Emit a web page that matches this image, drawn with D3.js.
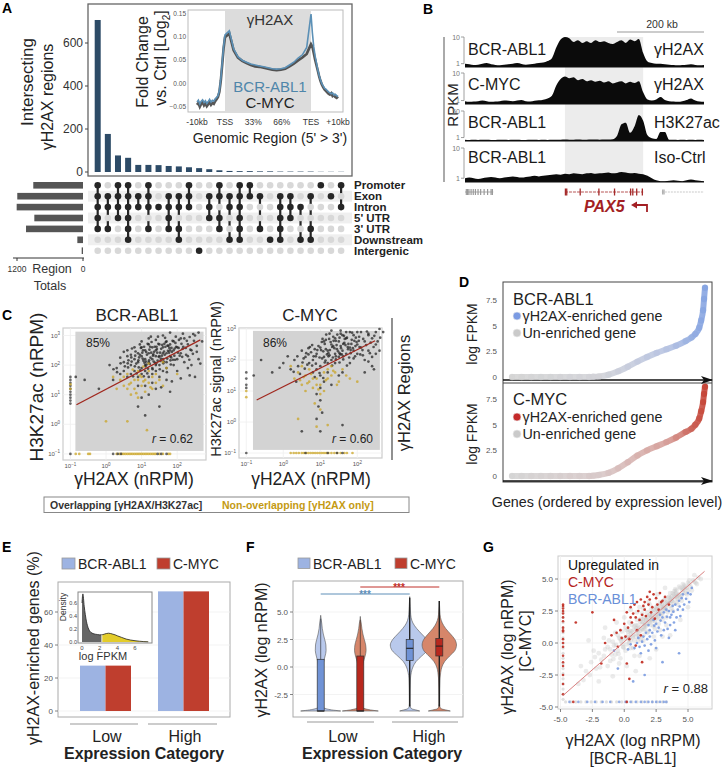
<!DOCTYPE html>
<html><head><meta charset="utf-8">
<script src="https://cdn.jsdelivr.net/npm/d3@7"></script>
<style>html,body{margin:0;padding:0;background:#fff;}svg{display:block;font-family:"Liberation Sans",Arial,Helvetica,sans-serif;}</style>
</head><body>
<svg id="fig" width="722" height="768"></svg>
<script>
// ================= DATA =================
// Panel A – UpSet
const upsetCounts = [707,177,77,66,33,33,32,28,26,22,18,13,8,5,4,4,3,3,2,2,2,2,1,1,1];
const upsetMembers = [[0,1,2,3,4],[1,2,4],[0,1,2,3],[0,1,2,3,4,5],[1,2],[0,1,2,4],[2],[1,2,3,4],[1,2,4,5],[0,1,2],[6],[1,2,3],[0,1,3,4],[1,2,5],[0,1,2,3,4,5],[0,1],[1,4],[5],[1,2,3,4,5],[1,2,3],[2,5],[1,4,5],[0],[1],[0,2]];
const regionNames = ["Promoter","Exon","Intron","5' UTR","3' UTR","Downstream","Intergenic"];
const regionTotals = [904,1195,1206,885,1036,103,24];
const upsetTicks = [0,200,400,600];
const totalsTicks = [1200,0];
// Panel A inset – metagene profile (position: -1=-10kb, 0=TSS, 1=TES, 2=+10kb, step 0.05)
const profileBCR = [-0.040,-0.036,-0.044,-0.038,-0.035,-0.041,-0.037,-0.043,-0.039,-0.034,
 -0.040,-0.036,-0.038,-0.033,-0.030,-0.026,-0.015,0.010,0.045,0.080,
 0.105,0.114,0.075,0.058,0.050,0.046,0.042,0.040,0.038,0.036,
 0.034,0.032,0.031,0.032,0.034,0.040,0.046,0.055,0.062,0.078,
 0.150,0.110,0.080,0.060,0.045,0.030,0.018,0.008,0.000,-0.005,
 -0.010,-0.012,-0.015,-0.018,-0.020,-0.022,-0.020,-0.025,-0.023,-0.026,-0.028];
const profileMYC = [-0.046,-0.042,-0.050,-0.044,-0.040,-0.047,-0.043,-0.049,-0.045,-0.040,
 -0.046,-0.042,-0.044,-0.038,-0.034,-0.029,-0.018,0.006,0.040,0.076,
 0.100,0.108,0.072,0.056,0.049,0.044,0.040,0.037,0.036,0.034,
 0.032,0.030,0.029,0.030,0.032,0.037,0.043,0.050,0.056,0.064,
 0.085,0.080,0.066,0.052,0.040,0.028,0.016,0.006,-0.002,-0.008,
 -0.013,-0.016,-0.019,-0.022,-0.024,-0.021,-0.027,-0.025,-0.029,-0.031,-0.028];
const profileTickPos = [-1,0,0.33,0.66,1,2];
const profileTickLabels = ["-10kb","TSS","33%","66%","TES","+10kb"];
const profileYTicks = [-0.05,0,0.05,0.10,0.15];

// Panel B – genome tracks (RPKM every 10 kb, 0–550 kb)
const trackNamesLeft = ["BCR-ABL1","C-MYC","BCR-ABL1","BCR-ABL1"];
const trackNamesRight = ["γH2AX","γH2AX","H3K27ac","Iso-Ctrl"];
const trackMaxLabel = ["10","10","50","10"];
const trackBCRgH2AX = [1.0,0.95,0.9,0.92,1.0,1.05,0.95,0.9,0.88,0.92,0.95,1.0,1.05,0.98,0.92,0.95,1.0,1.05,1.1,1.25,1.6,
 4.0,8.0,10.5,9.0,6.5,7.5,6.0,7.0,6.0,7.5,6.5,7.0,6.0,5.5,6.5,7.5,6.0,8.0,7.0,8.5,2.5,1.2,1.05,1.0,1.0,0.95,0.92,0.9,0.88,0.9,0.92,0.95,0.9,0.88,0.9];
const trackMYCgH2AX = [0.95,0.9,0.92,0.95,1.0,0.95,0.9,0.92,0.95,1.0,0.98,0.95,1.0,1.05,0.95,0.92,0.98,1.02,1.08,1.2,1.5,
 3.5,6.0,7.5,6.5,7.0,5.5,6.0,5.0,5.5,4.8,5.2,4.5,5.0,4.2,4.6,5.0,4.2,4.8,4.3,5.0,2.0,1.1,1.0,1.1,1.35,1.05,0.95,0.92,0.9,0.95,1.05,1.2,1.0,0.92,0.9];
const trackBCRH3K27ac = [0.72,0.7,0.71,0.7,0.72,0.71,0.7,0.7,0.72,0.71,0.7,0.71,0.72,0.7,0.7,0.71,0.72,0.7,0.71,0.7,0.72,0.73,0.72,0.74,0.73,0.72,0.74,0.73,0.72,0.74,0.75,0.73,0.74,0.75,
 0.78,1.3,7.0,9.0,2.0,5.0,28,12,1.4,0.9,0.8,2.3,2.3,0.72,0.71,0.7,0.72,0.7,0.71,0.7,0.72,0.7];
const trackBCRIso = [1.0,1.05,1.0,0.95,1.0,1.05,1.1,1.05,1.0,1.05,1.1,1.15,1.1,1.05,1.1,1.15,1.2,1.15,1.2,1.25,1.3,
 1.35,1.3,1.4,1.35,1.45,1.4,1.35,1.45,1.5,1.4,1.45,1.5,1.55,1.45,1.5,1.6,1.55,1.45,1.5,1.4,1.35,
 1.2,1.0,0.85,0.8,0.8,0.82,0.85,0.82,0.8,0.85,0.9,0.85,0.82,0.8];
const leftGeneExons = [3,6,9,14,19,24,30,36,44,52,60,63];
const pax5Exons = [231,234,265,308,344,381,386,395,408];
const rightGeneExons = [455,458];

// Panel C – scatter (log10 gH2AX, log10 H3K27ac)
const scBCRoverlap = [[0.9,2.1],[1.0,2.3],[1.1,2.0],[1.2,2.4],[1.3,2.2],[1.4,2.5],[1.5,2.3],[1.6,2.6],[1.7,2.4],[1.8,2.7],[1.0,1.9],[1.1,2.5],[1.2,2.1],[1.3,2.6],[1.4,2.0],[1.5,2.7],[1.6,2.2],[1.7,2.8],[1.8,2.3],[1.9,2.5],[0.8,2.2],[0.9,2.4],[1.0,2.6],[1.1,2.2],[1.2,2.7],[1.3,1.9],[1.4,2.3],[1.5,2.0],[1.6,2.4],[1.7,2.1],[1.8,2.5],[1.9,2.8],[2.0,2.6],[2.1,2.4],[2.2,2.9],[2.3,2.7],[2.4,2.5],[2.5,3.0],[2.0,2.2],[2.1,2.9],[0.7,2.0],[0.6,2.3],[0.5,2.1],[0.7,1.7],[0.8,1.8],[0.9,1.6],[1.0,1.7],[1.1,1.8],[1.2,1.6],[1.3,1.7],[1.4,1.8],[0.6,1.6],[0.5,1.8],[0.4,1.7],[0.3,1.9],[0.2,1.5],[-0.2,1.2],[-0.6,1.5],[-0.85,1.6],[0.1,2.0],[1.55,2.55],[1.65,2.35],[1.35,2.45],[1.25,2.25],[1.45,2.15],[1.15,2.35],[1.05,2.15],[0.95,2.35],[0.85,2.05],[1.75,2.65],[1.85,2.45],[1.95,2.75],[2.05,2.85],[2.15,2.55],[2.25,2.35],[2.35,2.95],[2.45,3.05],[2.55,2.65],[2.6,2.2],[2.4,2.0],[2.3,2.3],[2.2,2.1],[1.9,2.0],[1.7,1.9],[1.5,1.6],[1.3,1.4],[1.1,1.3],[0.9,1.3],[1.6,1.8],[2.0,1.8],[2.3,1.9],[1.2,1.0],[1.4,1.2],[1.7,1.5],[1.0,0.9],[0.9,0.6],[1.1,0.3],[1.5,0.6],[1.8,1.1],[2.5,1.6],[1.6,3.0],[1.8,3.1],[2.6,3.1],[1.0,2.8],[1.2,2.9],[0.8,2.6],[0.6,2.5],[1.4,2.85],[0.7,2.35],[1.52,2.42],[1.62,2.12],[1.42,2.62],[1.32,2.32],[1.22,2.52],[1.12,2.12],[1.02,2.42],[0.92,1.92],[0.82,2.32],[1.72,2.22],[1.82,2.02],[1.92,2.32],[2.02,2.42],[2.12,2.72],[0.72,2.12],[0.62,1.92],[1.48,2.28],[1.58,2.68],[1.38,2.08],[1.28,2.78],[1.18,1.88],[1.08,2.08],[0.98,2.58],[1.78,2.58],[1.88,2.18],[1.68,2.78],
 [1.03,2.22],[1.13,2.44],[1.23,2.04],[1.33,2.36],[1.43,2.54],[1.53,2.14],[1.63,2.46],[1.73,2.66],[1.83,2.26],[1.93,2.56],[0.93,2.26],[0.83,2.46],[0.73,2.56],[0.63,2.16],[0.53,1.96],[1.07,2.62],[1.17,2.72],[1.27,2.42],[1.37,2.62],[1.47,2.72],[1.57,2.32],[1.67,2.62],[1.77,2.42],[1.87,2.82],[1.97,2.62],[2.07,2.32],[2.17,2.62],[2.27,2.82],[2.37,2.52],[2.47,2.82],[1.11,1.96],[1.21,2.16],[1.31,1.86],[1.41,2.06],[1.51,1.86],[1.61,2.06],[1.71,1.76],[1.81,2.16],[0.91,2.16],[0.81,1.96],[0.71,2.26],[0.61,2.06],[0.41,2.06],[0.31,1.76],[0.21,1.86],[1.04,2.5],[1.14,2.02],[1.24,2.62],[1.34,2.12],[1.44,2.42],[1.54,2.22],[1.64,2.72],[1.74,2.48],[1.84,2.58],[1.94,2.18],[2.04,2.58],[2.14,2.28],[2.24,2.58],[2.34,2.18],[2.44,2.38],[0.96,1.82],[0.86,1.72],[0.76,1.62],[1.06,1.62],[1.16,1.72],[1.26,2.96],[1.46,2.96],[1.66,2.92],[1.96,2.96],[2.16,3.06],[0.5,2.45],[0.4,2.25],[0.95,2.7],[2.7,2.8],[2.55,2.45],[2.65,2.05],[2.35,1.65],[2.1,1.55],[1.85,1.45],[1.55,1.25]];
const scBCRnonoverlap = [[0.4,1.5],[0.5,1.3],[0.6,1.7],[0.7,1.4],[0.8,1.2],[0.9,1.5],[1.0,1.3],[1.1,1.1],[1.2,1.4],[1.3,1.2],[0.5,1.6],[0.6,1.2],[0.7,1.0],[0.8,1.5],[0.9,1.8],[1.0,1.6],[1.1,1.5],[1.2,1.8],[1.3,1.6],[1.4,1.4],[1.5,1.5],[1.6,1.3],[0.3,1.2],[0.2,1.6],[0.0,0.1],[0.6,0.1],[0.9,0.9],[1.15,-0.2],[1.4,1.7],[1.7,1.9],[2.0,1.7],[1.6,2.1],[1.2,2.05],[0.75,1.85],[1.05,1.95],[0.65,1.35],[0.85,1.05],[1.05,1.45],[1.25,1.25],[0.95,1.65]];
const scBCRbottomNon = [-0.85,-0.75,-0.5,-0.45,0.3,0.38,0.45,0.5,0.55,0.6,0.65,0.7,0.75,0.8,0.85,0.9,0.95,1.0,1.05,1.1,1.15,1.2,1.25,1.3,1.35,1.4,1.5,1.6,1.75,1.8];
const scBCRbottomOver = [-1,0.2,0.33,0.42,1.45,1.55,1.7];
const scBCRleftOver = [0.7,0.8,0.9,1.0,1.1,1.2,1.3,1.4,1.5,1.6];
const scBCRleftNon = [1.2,1.35];
const scMYCoverlap = [[0.8,2.0],[0.9,2.2],[1.0,2.4],[1.1,2.1],[1.2,2.3],[1.3,2.5],[1.4,2.2],[1.5,2.6],[1.6,2.3],[1.7,2.7],[1.8,2.4],[1.9,2.8],[2.0,2.5],[2.1,2.9],[2.2,2.6],[2.3,2.8],[2.4,2.7],[2.5,2.9],[2.6,3.0],[0.7,1.9],[0.6,2.1],[0.5,2.3],[0.4,1.8],[0.3,2.0],[0.2,1.7],[0.0,1.9],[-0.3,1.6],[-0.6,2.0],[-0.8,1.5],[1.0,1.8],[1.1,2.6],[1.2,1.9],[1.3,2.0],[1.4,2.7],[1.5,2.1],[1.6,2.8],[1.7,2.2],[1.8,2.9],[1.9,2.3],[2.0,2.2],[2.1,2.4],[2.2,2.0],[2.3,2.3],[2.4,2.1],[2.5,2.5],[0.9,1.7],[0.8,1.6],[1.0,1.5],[1.2,1.6],[1.4,1.9],[0.95,2.45],[1.05,2.05],[1.15,2.35],[1.25,2.15],[1.35,2.45],[1.45,2.35],[1.55,2.45],[1.65,2.55],[1.75,2.35],[1.85,2.65],[1.95,2.45],[2.05,2.75],[0.85,2.35],[0.75,2.25],[0.65,1.85],[0.55,2.05],[1.1,1.3],[1.0,1.1],[0.9,0.9],[1.0,0.7],[0.95,0.5],[1.05,0.3],[0.9,0.1],[1.0,-0.3],[0.5,-0.3],[1.6,-0.1],[1.3,1.2],[1.5,1.5],[1.8,1.9],[2.2,1.6],[2.4,1.8],[2.6,2.3],[2.55,2.6],[2.45,1.7],[1.6,1.6],[1.9,2.05],[2.15,2.15],[1.35,2.75],[1.25,2.85],[1.55,2.85],[1.15,2.65],[0.45,1.55],[0.35,1.3],[1.7,2.9],[2.0,2.9],[2.3,2.85],[1.48,2.28],[1.58,2.18],[1.38,2.38],[1.28,2.58],[1.18,2.18],[1.08,2.28],[0.98,2.08],[0.88,1.88],[1.68,2.48],[1.78,2.08],[1.88,2.38],[1.98,2.58],[2.08,2.18],[0.78,2.48],[0.68,2.38],[1.42,2.02],[1.52,2.72],[1.62,2.02],
 [1.02,2.32],[1.12,2.52],[1.22,2.12],[1.32,2.42],[1.42,2.62],[1.52,2.22],[1.62,2.52],[1.72,2.72],[1.82,2.32],[1.92,2.62],[0.92,2.32],[0.82,2.12],[0.72,2.42],[0.62,2.22],[0.52,1.92],[1.06,2.68],[1.16,2.82],[1.26,2.32],[1.36,2.62],[1.46,2.82],[1.56,2.38],[1.66,2.68],[1.76,2.52],[1.86,2.88],[1.96,2.72],[2.06,2.42],[2.16,2.68],[2.26,2.92],[2.36,2.56],[2.46,2.78],[1.12,1.92],[1.22,2.22],[1.32,1.82],[1.42,2.12],[1.52,1.92],[1.62,2.12],[1.72,1.82],[1.82,2.22],[0.88,2.12],[0.78,1.82],[0.68,2.18],[0.58,1.72],[0.38,2.12],[0.28,1.62],[0.12,2.12],[1.04,2.58],[1.14,1.98],[1.24,2.68],[1.34,2.08],[1.44,2.48],[1.54,2.18],[1.64,2.78],[1.74,2.42],[1.84,2.52],[1.94,2.12],[2.04,2.62],[2.14,2.32],[2.24,2.48],[2.34,2.22],[2.44,2.42],[2.62,2.72],[2.7,2.9],[2.5,2.2],[2.3,1.95],[0.98,1.58],[1.08,1.42],[0.85,1.45],[1.3,2.95],[1.55,2.95],[-0.1,1.75]];
const scMYCnonoverlap = [[0.5,1.2],[0.6,1.5],[0.7,1.3],[0.8,1.1],[0.9,1.4],[1.0,1.2],[1.1,1.6],[1.2,1.4],[1.3,1.5],[0.4,1.6],[0.5,1.8],[0.6,1.0],[0.7,1.7],[0.8,1.4],[0.9,1.2],[1.0,0.9],[1.1,1.0],[1.2,1.7],[1.3,1.8],[1.4,1.6],[1.5,1.3],[1.6,1.7],[1.7,1.5],[0.3,1.4],[0.2,1.8],[0.9,-0.15],[0.4,0.1],[1.2,-0.1],[1.0,0.4],[0.85,0.6],[1.8,1.4],[2.0,1.3],[1.45,1.2],[0.55,1.45],[0.75,1.55],[0.65,1.25],[0.95,1.05],[1.15,1.35],[1.35,1.65],[0.45,1.35]];
const scMYCbottomNon = [0.2,0.28,0.35,0.42,0.5,0.56,0.62,0.68,0.74,0.8,0.86,0.92,0.98,1.04,1.1,1.16,1.22,1.3,1.38,1.46,1.55,1.65,1.72,1.87];
const scMYCbottomOver = [-1,0.6,1.2,1.45,1.6];
const scMYCleftOver = [1.1,1.2,1.4,1.6];
const scMYCleftNon = [0.8,1.0];
const regBCR = [[-0.83,0.66],[2.65,2.85]];
const regMYC = [[-0.72,0.71],[2.48,2.62]];
const cExpTicks = [-1,0,1,2,3];

// Panel D – ranked expression (rank fraction, log FPKM)
const dRank = [0,0.05,0.1,0.15,0.2,0.25,0.3,0.35,0.4,0.42,0.45,0.5,0.55,0.6,0.65,0.7,0.75,0.8,0.85,0.9,0.93,0.95,0.97,0.98,0.99,0.995,1.0];
const dBCR = [0,0,0,0,0,0,0,0,0,0.02,0.06,0.22,0.55,1.0,1.5,1.95,2.35,2.7,3.05,3.5,3.85,4.2,4.8,5.5,6.5,7.6,8.7];
const dMYC = [0,0,0,0,0,0,0,0,0,0.03,0.1,0.3,0.75,1.35,2.0,2.5,2.9,3.3,3.75,4.3,4.6,5.0,5.6,6.3,7.2,8.0,8.7];
const dTicks = [0,2.5,5,7.5];

// Panel E – % enriched genes
const expCategories = ["Low","High"];
const enrichedBCR = [27.5,72.5];
const enrichedMYC = [27.5,72.5];
const eTicks = [0,20,40,60];
const densX = [0,0.1,0.25,0.5,0.75,1,1.25,1.5,1.75,2,2.25,2.5,2.75,3,3.25,3.5,3.75,4,4.5,5,5.5,6,6.5,7,7.5];
const densY = [0.6,0.74,0.55,0.32,0.2,0.15,0.13,0.12,0.115,0.11,0.11,0.12,0.13,0.135,0.13,0.12,0.11,0.095,0.07,0.045,0.03,0.02,0.012,0.006,0.003];
const densSplit = 2.25;

// Panel F – violins (value, relative half width)
const vLowBCRy = [-4,-3.9,-3.8,-3.7,-3.5,-3,-2,-1,0,0.5,1,1.5,2,2.5,3,3.5,4,4.4,4.7];
const vLowBCRw = [1.0,0.55,0.28,0.14,0.07,0.05,0.05,0.06,0.1,0.15,0.22,0.27,0.26,0.2,0.13,0.08,0.05,0.02,0];
const vLowMYCy = [-4,-3.9,-3.8,-3.7,-3.5,-3,-2,-1,0,0.5,1,1.5,2,2.5,3,3.5,4,4.3,4.6];
const vLowMYCw = [0.9,0.5,0.25,0.12,0.06,0.05,0.05,0.06,0.1,0.16,0.24,0.29,0.27,0.2,0.13,0.08,0.045,0.015,0];
const vHighBCRy = [-4,-3.9,-3.8,-3.6,-3.3,-3,-2,-1,-0.5,0,0.5,1,1.5,2,2.5,3,3.5,4,4.5,5,5.5,6,6.4];
const vHighBCRw = [0.5,0.3,0.1,0.03,0.02,0.02,0.025,0.04,0.08,0.16,0.32,0.6,0.88,0.97,0.85,0.6,0.35,0.16,0.07,0.04,0.025,0.01,0];
const vHighMYCy = [-4,-3.9,-3.8,-3.6,-3.3,-3,-2,-1,-0.5,0,0.5,1,1.5,2,2.5,3,3.5,4,4.5,5,5.5,6.0];
const vHighMYCw = [0.55,0.32,0.1,0.03,0.02,0.02,0.025,0.04,0.07,0.13,0.27,0.52,0.78,0.86,0.78,0.56,0.32,0.15,0.06,0.03,0.015,0];
const boxQ1 = [-4,-4,0.6,1.0];
const boxMed = [-4,-4,1.7,1.9];
const boxQ3 = [0.7,1.0,2.5,2.6];
const whiskLo = [-4,-4,-3.6,-3.6];
const whiskHi = [4.4,4.3,6.3,6.0];
const fTicks = [-2.5,0,2.5,5];

// Panel G – scatter (log nRPM BCR-ABL1, C-MYC)
const gGray = [[-3.0,-2.2],[-2.6,-1.5],[-2.2,-2.0],[-2.0,-0.8],[-1.8,-1.3],[-1.5,-0.5],[-1.3,-1.8],[-1.2,0.2],[-1.0,-0.9],[-0.8,-0.2],[-0.7,0.8],[-0.5,-0.6],[-0.4,0.4],[-0.3,-1.2],[-0.2,0.9],[-0.1,-0.3],[0.0,0.3],[0.1,1.2],[0.2,-0.1],[0.3,0.6],[0.4,1.6],[0.5,0.2],[0.6,0.9],[0.7,-0.4],[0.8,1.3],[0.9,0.5],[1.0,1.8],[1.1,0.8],[1.2,1.2],[1.3,0.3],[1.4,1.5],[1.5,1.0],[1.6,2.0],[1.7,1.3],[1.8,0.8],[1.9,1.7],[2.0,2.2],[2.1,1.4],[2.2,1.9],[2.3,2.6],[2.4,1.7],[2.5,2.2],[2.6,2.9],[2.7,1.9],[2.8,2.5],[2.9,3.1],[3.0,2.3],[3.1,2.8],[3.2,3.4],[3.3,2.6],[3.4,3.0],[3.5,3.6],[3.6,2.9],[3.7,3.3],[3.8,3.9],[3.9,3.1],[4.0,3.6],[4.1,4.1],[4.2,3.4],[4.3,3.8],[4.4,4.3],[4.5,3.7],[4.6,4.0],[4.7,4.5],[4.8,3.9],[4.9,4.3],[5.0,4.7],[5.2,4.4],[5.4,4.9],[5.6,4.7],[5.8,5.1],[6.0,5.0],[1.05,1.35],[1.25,1.65],[1.45,1.85],[1.65,1.55],[1.85,2.05],[2.05,1.75],[2.25,2.35],[2.45,2.05],[2.65,2.45],[2.85,2.85],[3.05,2.65],[3.25,3.05],[3.45,3.25],[3.65,3.55],[3.85,3.45],[4.05,3.85],[0.55,0.75],[0.75,1.05],[0.95,1.15],[0.35,0.25],[0.15,0.45],[-0.05,-0.35],[-0.25,0.15],[-0.45,-0.85],[-0.65,-0.15],[-0.85,-1.25],[-1.1,-0.5],[-1.6,-1.0],[-2.4,-0.6],[-3.4,-1.8],[2.3,0.5],[2.8,1.0],[3.3,1.4],[1.5,0.2],[0.8,-1.0],[0.2,-1.8],[-0.6,1.6],[0.5,2.6],[1.2,2.8],[1.9,3.2],[2.6,3.8],[3.2,4.3],[-1.5,1.2],[-2.8,0.2],[-3.6,-3.2],[-2.0,-3.0],[-0.9,-2.6],[0.9,-2.2],[2.0,-1.2],[3.6,0.6],[4.4,1.8],[5.0,2.8],[1.35,1.1],[1.75,1.85],[2.15,2.05],[2.55,2.65],[2.95,2.75],[3.35,3.15],[3.75,3.65],[4.15,3.55],[4.55,4.15],[0.65,0.45],[0.45,0.95],[1.15,0.55],[1.55,1.25],
 [0.1,-0.6],[0.3,0.9],[0.5,-0.4],[0.7,0.6],[0.9,1.4],[1.1,0.2],[1.3,1.9],[1.5,0.6],[1.7,1.8],[1.9,0.9],[2.1,2.6],[2.3,1.3],[2.5,2.8],[2.7,1.5],[2.9,2.2],[3.1,3.3],[3.3,2.0],[3.5,3.1],[3.7,2.7],[3.9,3.8],[4.1,3.2],[4.3,4.4],[4.5,3.3],[4.7,4.2],[4.9,3.8],[5.1,4.9],[5.3,4.1],[5.5,5.3],[5.7,4.6],[0.2,1.0],[0.4,0.0],[0.6,1.4],[0.8,0.2],[1.0,1.0],[1.2,0.5],[1.4,2.3],[1.6,1.1],[1.8,2.4],[2.0,1.6],[2.2,2.2],[2.4,1.1],[2.6,2.0],[2.8,3.2],[3.0,1.8],[3.2,2.9],[3.4,2.4],[3.6,3.9],[3.8,2.5],[4.0,4.2],[4.2,3.0],[4.4,3.6],[4.6,4.6],[4.8,4.4],[5.0,4.1],[-0.3,0.3],[-0.5,0.6],[-0.7,-0.9],[-0.9,0.1],[-1.1,-1.4],[-1.3,-0.3],[-1.6,0.4],[-1.9,-1.9],[-2.3,-1.1],[-2.7,-2.5],[-3.2,-2.9],[1.25,0.95],[1.75,1.45],[2.25,1.75],[2.75,2.25],[3.25,2.75],[3.75,3.25],[4.25,3.75],[1.45,1.65],[1.95,2.15],[2.45,2.55],[2.95,3.05],[3.45,3.55],[3.95,4.05],[0.95,0.75],[0.45,0.45],[-0.15,-0.05],[1.6,1.4],[2.1,1.9],[2.6,2.3],[3.1,2.7],[3.6,3.3],[4.1,3.7],[4.6,4.3],[5.1,4.6],[5.5,4.8],[1.0,2.4],[1.5,2.7],[2.0,3.0],[0.0,2.0],[3.0,0.5],[2.5,-0.5],[1.2,-1.0],[-0.4,-1.6]];
const gLeftGrayY = [-4.4,-4.0,-3.6,-3.2,-2.8,-2.4,-2.0,-1.6,-1.2,-0.8,-0.4,0,0.4,0.8,1.2,1.6,2.0,2.4,2.8];
const gBottomGrayX = [-4.6,-4.2,-3.8,-3.4,-3.0,-2.6,-2.2,-1.8,-1.4,-1.0,-0.6,-0.2,0.2,0.6,1.0,1.4,1.8,2.2,2.6,3.0,3.3];
const gRed = [[0.2,2.4],[0.5,2.8],[0.8,3.0],[1.0,3.2],[1.3,3.4],[1.5,2.9],[1.8,3.6],[2.0,4.0],[2.3,3.8],[2.5,3.5],[2.8,3.9],[3.0,3.3],[0.6,1.6],[0.9,2.0],[1.1,2.5],[1.4,2.2],[1.6,2.6],[1.9,3.0],[2.2,2.8],[2.6,3.0],[3.2,3.6],[-0.3,1.0],[-0.6,0.8],[0.0,1.5],[0.3,1.2],[0.7,2.3],[1.2,1.8],[1.7,2.1],[2.1,2.4],[0.4,0.3],[-0.2,0.4],[-1.0,0.6],[-1.5,0.0],[-1.8,-1.6],[-2.5,2.4],[-3.8,1.6],[0.2,-1.6],[0.4,-2.8],[1.4,-1.5],[0.9,-0.2],[1.3,0.6],[2.4,1.9],[3.5,3.0],[1.0,1.0],[0.1,0.5],[-0.5,-0.3],[2.7,2.6],[1.6,3.2],[0.5,2.0],[2.0,3.4],[2.9,3.2],[-0.8,1.8]];
const gRedLeftY = [-4.0,-3.2,-2.5,-1.8,-1.5,-1.0,-0.3,0.0,0.3,0.9,1.0,1.2,1.7,2.0,2.3,2.5,2.7,2.9,3.0];
const gBlue = [[1.5,0.5],[2.0,1.0],[2.5,1.5],[3.0,2.0],[3.5,2.5],[4.0,3.0],[4.5,3.5],[5.0,3.9],[5.3,4.3],[1.0,0.0],[1.2,-0.3],[1.8,0.3],[2.2,0.8],[2.7,1.2],[3.2,1.6],[3.7,2.2],[4.2,2.6],[4.7,3.0],[2.4,0.2],[2.9,0.6],[3.4,1.1],[3.9,1.6],[4.4,2.1],[0.8,-0.4],[1.3,-0.8],[1.6,-0.2],[2.1,-0.1],[3.1,1.0],[3.6,1.4],[4.1,2.0],[4.6,2.6],[5.1,3.2],[2.6,0.9],[3.3,2.6],[3.8,2.9],[4.3,3.3],[1.9,1.4],[2.3,1.8],[2.8,2.2],[4.3,-0.8],[3.0,-1.5],[1.6,-2.5],[0.7,-3.0],[-0.5,-2.0],[-0.8,-0.6],[0.3,-0.5],[1.9,-0.6],[2.5,-0.4],[3.5,0.4],[4.0,1.0],[1.1,0.4],[1.7,0.8],[2.35,1.35],[2.85,1.75],[3.35,2.05],[3.85,2.45],[4.35,2.85],[4.85,3.45],[0.5,-0.1],[1.4,0.1],[2.0,0.5],[3.1,2.4],[3.6,2.0],[4.6,3.8],[5.2,3.8]];
const gBlueBottomX = [-4.3,-3.6,-2.9,-2.3,-1.7,-1.1,-0.4,0.1,0.5,0.9,1.3,1.6,1.9,2.2,2.5,2.8,3.1,3.3];
const gRedBottomX = [-4.0,0.2];
const gTicks = [-5,-2.5,0,2.5,5];
const regG = [[-4.8,-4.1],[6.3,5.6]];

// ================= DRAWING =================
const svg = d3.select("#fig");
const defs = svg.append("defs");
function T(g, x, y, s, o = {}) {
  const t = g.append("text").attr("x", x).attr("y", y)
    .attr("font-size", o.size || 12).attr("fill", o.fill || "#222")
    .attr("text-anchor", o.anchor || "start");
  if (o.weight) t.attr("font-weight", o.weight);
  if (o.italic) t.attr("font-style", "italic");
  if (o.rot) t.attr("transform", `rotate(${o.rot},${x},${y})`);
  if (s !== null) t.text(s);
  return t;
}
function L(g, x1, y1, x2, y2, stroke, w) {
  return g.append("line").attr("x1", x1).attr("y1", y1).attr("x2", x2).attr("y2", y2)
    .attr("stroke", stroke || "#000").attr("stroke-width", w || 1);
}
function R(g, x, y, w, h, fill, stroke, sw) {
  const r = g.append("rect").attr("x", x).attr("y", y).attr("width", w).attr("height", h)
    .attr("fill", fill || "none");
  if (stroke) r.attr("stroke", stroke).attr("stroke-width", sw || 1);
  return r;
}
[["A",2,13],["B",423,14],["C",2,320],["D",459,287],["E",2,552],["F",246,552],["G",483,552]]
  .forEach(([s,x,y]) => T(svg, x, y, s, {size:14, weight:"bold", fill:"#000"}));

// ---------- Panel A ----------
const gA = svg.append("g");
const xA = d3.scalePoint().domain(d3.range(upsetCounts.length)).range([97.7, 341.1]);
const yA = d3.scaleLinear().domain([0, 800]).range([172, 0]);
R(gA, 88, 4, 264, 172, "#fff", "#666", 1.3);
gA.selectAll("rect.bar").data(upsetCounts).join("rect").attr("class","bar")
  .attr("x", (d,i) => xA(i) - 3).attr("y", d => yA(d)).attr("width", 6)
  .attr("height", d => yA(0) - yA(d)).attr("fill", "#2d4b67");
upsetTicks.forEach(t => { L(gA, 85, yA(t), 88, yA(t), "#444", 1); T(gA, 83, yA(t) + 4, String(t), {size:12, anchor:"end", fill:"#333"}); });
T(gA, 33, 82, "Intersecting", {size:17, anchor:"middle", rot:-90});
T(gA, 53, 97, "γH2AX regions", {size:16, anchor:"middle", rot:-90});
const xI = d3.scaleLinear().domain([-1,0,1,2]).range([197,225,311,338]);
const yI = d3.scaleLinear().domain([-0.05,0.15]).range([106.7,14]);
R(gA, 188, 10, 155, 102, "#fff", "#bbb", 1);
R(gA, xI(0), 10.5, xI(1) - xI(0), 101, "#dcdcdc", null);
const profilePos = profileBCR.map((d,i) => -1 + i * 0.05);
const lineI = d3.line().x((d,i) => xI(profilePos[i])).y(d => yI(d));
gA.append("path").attr("d", lineI(profileMYC)).attr("fill","none").attr("stroke","#3a3a3a").attr("stroke-width",2.6).attr("opacity",0.85);
gA.append("path").attr("d", lineI(profileBCR)).attr("fill","none").attr("stroke","#5b90b6").attr("stroke-width",1.6);
profileYTicks.forEach(t => T(gA, 186, yI(t) + 2, d3.format(".2f")(t), {size:6.5, anchor:"end", fill:"#555"}));
profileTickPos.forEach((p,i) => T(gA, xI(p), 125, profileTickLabels[i], {size:8.5, anchor:"middle", fill:"#333"}));
T(gA, 270, 25, "γH2AX", {size:15, anchor:"middle", fill:"#333"});
T(gA, 270, 92, "BCR-ABL1", {size:15, anchor:"middle", fill:"#4f86aa"});
T(gA, 270, 108, "C-MYC", {size:15, anchor:"middle", fill:"#222"});
T(gA, 270, 143, "Genomic Region (5' > 3')", {size:14, anchor:"middle", fill:"#222"});
T(gA, 148, 62, "Fold Change", {size:16, anchor:"middle", rot:-90});
const vsT = T(gA, 166, 58, null, {size:16, anchor:"middle", rot:-90});
vsT.append("tspan").text("vs. Ctrl [Log");
vsT.append("tspan").attr("font-size", 10).attr("dy", 4).text("2");
vsT.append("tspan").attr("dy", -4).text("]");
const yM = d3.scalePoint().domain(d3.range(regionNames.length)).range([185.3, 250.7]);
[1,3,5].forEach(r => R(gA, 88, yM(r) - 5.45, 264, 10.9, "#efefef", null));
upsetMembers.forEach((m, i) => {
  if (m.length > 1) L(gA, xA(i), yM(d3.min(m)), xA(i), yM(d3.max(m)), "#262626", 2.2);
  regionNames.forEach((n, r) => {
    gA.append("circle").attr("cx", xA(i)).attr("cy", yM(r)).attr("r", 3.3)
      .attr("fill", m.includes(r) ? "#262626" : "#d8d8d8");
  });
});
regionNames.forEach((n, r) => T(gA, 354, yM(r) + 4, n, {size:11.5, weight:"bold", fill:"#222"}));
const xT = d3.scaleLinear().domain([0,1200]).range([83,17]);
regionTotals.forEach((v, r) => R(gA, xT(v), yM(r) - 3.3, xT(0) - xT(v), 6.6, "#555", null));
L(gA, 13, 258, 84, 258, "#333", 1);
totalsTicks.forEach(t => { L(gA, xT(t), 258, xT(t), 261, "#333", 1); T(gA, xT(t), 272, String(t), {size:8.5, anchor:"middle", fill:"#333"}); });
T(gA, 52, 273, "Region", {size:12.5, anchor:"middle", fill:"#333"});
T(gA, 50, 290, "Totals", {size:12.5, anchor:"middle", fill:"#333"});

// ---------- Panel B ----------
const gB = svg.append("g");
const xB = d3.scaleLinear().domain([0,550]).range([465,704]);
const trackPos = d3.range(0, 551, 10);
const trackData = [trackBCRgH2AX, trackMYCgH2AX, trackBCRH3K27ac, trackBCRIso];
const trackBase = [67,104,141,182], trackTop = [37,73,111,148];
const trackDom = [[0.75,10],[0.75,10],[0.6,50],[0.75,10]];
const trackMaxVal = [10,10,50,10];
R(gB, xB(230), 37, xB(410) - xB(230), 145, "#ececec", null);
L(gB, 444, 37, 444, 182, "#aaa", 2);
T(gB, 458, 105, "RPKM", {size:15, anchor:"middle", rot:-90});
trackData.forEach((vals, k) => {
  const ys = d3.scaleLog().domain(trackDom[k]).range([trackBase[k], trackTop[k]]).clamp(true);
  const area = d3.area().x((d,i) => xB(trackPos[i])).y0(trackBase[k]).y1(d => ys(d)).curve(d3.curveMonotoneX);
  gB.append("path").attr("d", area(vals)).attr("fill", "#0b0b0b");
  L(gB, 465, trackBase[k], 704, trackBase[k], "#111", 1);
  const yTop = ys(trackMaxVal[k]), y1 = ys(1);
  gB.append("path").attr("d", `M461,${yTop}H464V${y1}H461`).attr("fill","none").attr("stroke","#888").attr("stroke-width",0.8);
  T(gB, 460, yTop + 2.5, trackMaxLabel[k], {size:7, anchor:"end", fill:"#777"});
  T(gB, 460, y1 + 2.5, "1", {size:7, anchor:"end", fill:"#777"});
});
[55,90,128,163].forEach((y,k) => {
  T(gB, 468, y, trackNamesLeft[k], {size:16, fill:"#1a1a1a"});
  T(gB, 654, y, trackNamesRight[k], {size:16, fill:"#1a1a1a"});
});
L(gB, 617, 32, 704, 32, "#999", 1);
T(gB, 662, 28, "200 kb", {size:10.5, anchor:"middle", fill:"#333"});
const yG = 192;
L(gB, xB(0), yG, xB(65), yG, "#aaa", 1);
leftGeneExons.forEach(e => R(gB, xB(e) - 0.6, yG - 3, 1.2, 6, "#999", null));
L(gB, xB(230), yG, xB(410), yG, "#a52a2a", 0.8).attr("stroke-dasharray","3,1");
pax5Exons.forEach(e => R(gB, xB(e) - 0.6, yG - 3.5, 1.3, 7, "#a52a2a", null));
L(gB, xB(453), yG, xB(550), yG, "#bbb", 0.8).attr("stroke-dasharray","2,1");
rightGeneExons.forEach(e => R(gB, xB(e) - 0.6, yG - 2.5, 1.2, 5, "#aaa", null));
T(gB, 584, 212, "PAX5", {size:16, weight:"bold", italic:true, fill:"#a31f24"});
gB.append("path").attr("d","M647,212V205H635").attr("fill","none").attr("stroke","#a31f24").attr("stroke-width",1.8);
gB.append("path").attr("d","M631,205L637,201.5L637,208.5Z").attr("fill","#a31f24");

// ---------- Panel C ----------
const gC = svg.append("g");
function pow10(g, x, y, e, anchor) {
  const t = T(g, x, y, null, {size:6, anchor: anchor, fill:"#555"});
  t.append("tspan").text("10");
  t.append("tspan").attr("dy", -2.5).attr("font-size", 4.5).text(e === -1 ? "−1" : String(e));
}
function scatterC(cfg) {
  const {xs, ys, frame, gray, over, non, bottomNon, bottomOver, leftOver, leftNon, reg} = cfg;
  R(gC, frame[0], frame[1], frame[2] - frame[0], frame[3] - frame[1], "#fff", "#ccc", 1.2);
  cExpTicks.forEach(e => {
    if (xs(e) > frame[0] && xs(e) < frame[2]) L(gC, xs(e), frame[1], xs(e), frame[3], "#efefef", 0.8);
    if (ys(e) > frame[1] && ys(e) < frame[3]) L(gC, frame[0], ys(e), frame[2], ys(e), "#efefef", 0.8);
  });
  R(gC, xs(gray[0]), ys(gray[3]), xs(gray[2]) - xs(gray[0]), ys(gray[1]) - ys(gray[3]), "#d3d3d3", null);
  const dot = (x, y, col) => gC.append("circle").attr("cx", xs(x)).attr("cy", ys(y)).attr("r", 1.35).attr("fill", col).attr("fill-opacity", 0.72);
  over.forEach(p => dot(p[0], p[1], "#1e1e1e"));
  non.forEach(p => dot(p[0], p[1], "#c9a21e"));
  bottomNon.forEach(x => dot(x, -1, "#c9a21e"));
  bottomOver.forEach(x => dot(x, -1, "#333"));
  leftOver.forEach(y => dot(-1, y, "#333"));
  leftNon.forEach(y => dot(-1, y, "#c9a21e"));
  L(gC, xs(reg[0][0]), ys(reg[0][1]), xs(reg[1][0]), ys(reg[1][1]), "#a0281e", 1.3);
  cExpTicks.forEach(e => {
    if (ys(e) >= frame[1] && ys(e) <= frame[3]) pow10(gC, frame[0] - 3, ys(e) + 2, e, "end");
    if (xs(e) >= frame[0] && xs(e) <= frame[2]) pow10(gC, xs(e), frame[3] + 8, e, "middle");
  });
}
const xC1 = d3.scaleLinear().domain([0,1]).range([106,141.6]);
const yC1 = d3.scaleLinear().domain([0,1]).range([424.3,394.7]);
const xC2 = d3.scaleLinear().domain([0,1]).range([283.3,320.3]);
const yC2 = d3.scaleLinear().domain([0,1]).range([422,391]);
scatterC({xs:xC1, ys:yC1, frame:[63,328,206,460], gray:[-0.86,-0.9,2.74,3.13], over:scBCRoverlap, non:scBCRnonoverlap,
  bottomNon:scBCRbottomNon, bottomOver:scBCRbottomOver, leftOver:scBCRleftOver, leftNon:scBCRleftNon, reg:regBCR});
scatterC({xs:xC2, ys:yC2, frame:[239,328,382,458], gray:[-0.82,-0.9,2.61,2.94], over:scMYCoverlap, non:scMYCnonoverlap,
  bottomNon:scMYCbottomNon, bottomOver:scMYCbottomOver, leftOver:scMYCleftOver, leftNon:scMYCleftNon, reg:regMYC});
T(gC, 137, 321, "BCR-ABL1", {size:17, anchor:"middle"});
T(gC, 310, 321, "C-MYC", {size:17, anchor:"middle"});
T(gC, 86, 347, "85%", {size:12, fill:"#222"});
T(gC, 263, 347, "86%", {size:12, fill:"#222"});
[[193,"0.62"],[373,"0.60"]].forEach(([x,v]) => {
  const t = T(gC, x, 443, null, {size:12, anchor:"end"});
  t.append("tspan").attr("font-style","italic").text("r");
  t.append("tspan").text(" = " + v);
});
T(gC, 43, 387, "H3K27ac (nRPM)", {size:19, anchor:"middle", rot:-90});
T(gC, 221, 379, "H3K27ac signal (nRPM)", {size:14.5, anchor:"middle", rot:-90});
T(gC, 134, 485, "γH2AX (nRPM)", {size:17.5, anchor:"middle"});
T(gC, 311, 485, "γH2AX (nRPM)", {size:17.5, anchor:"middle"});
L(gC, 392, 318, 392, 460, "#555", 1.3);
T(gC, 410, 393, "γH2AX Regions", {size:16.5, anchor:"middle", rot:-90});
R(gC, 44, 497, 365, 15.5, "#fff", "#888", 1);
T(gC, 50, 508.5, "Overlapping [γH2AX/H3K27ac]", {size:10.5, weight:"bold", fill:"#333"});
T(gC, 222, 508.5, "Non-overlapping [γH2AX only]", {size:10.5, weight:"bold", fill:"#c49a12"});

// ---------- Panel D ----------
const gD = svg.append("g");
const xD = d3.scaleLinear().domain([0,1]).range([512,705]);
const yD1 = d3.scaleLinear().domain([0,7.5]).range([377,300]);
const yD2 = d3.scaleLinear().domain([0,7.5]).range([476,399]);
R(gD, 503, 282, 209, 200, "#fff", "#444", 1);
L(gD, 503, 383, 712, 383, "#444", 1);
defs.append("marker").attr("id","arrowD").attr("viewBox","0 0 12 8").attr("refX",11).attr("refY",4)
  .attr("markerWidth",12).attr("markerHeight",8).attr("markerUnits","userSpaceOnUse").attr("orient","auto")
  .append("path").attr("d","M0,0L12,4L0,8L3,4Z").attr("fill","#111");
L(gD, 503, 380, 712, 380, "#111", 1.5).attr("marker-end","url(#arrowD)");
L(gD, 503, 481, 712, 481, "#111", 1.5).attr("marker-end","url(#arrowD)");
function curveD(vals, yS, cols, gid) {
  const cs = d3.scaleLinear().domain([0,0.45,0.8,1]).range(cols);
  const grad = defs.append("linearGradient").attr("id", gid).attr("gradientUnits","userSpaceOnUse")
    .attr("x1", xD(0)).attr("x2", xD(1)).attr("y1", 0).attr("y2", 0);
  [0,0.45,0.8,1].forEach(o => grad.append("stop").attr("offset", o).attr("stop-color", cs(o)));
  const ln = d3.line().x((d,i) => xD(dRank[i])).y(d => yS(d)).curve(d3.curveMonotoneX);
  gD.append("path").attr("d", ln(vals)).attr("fill","none").attr("stroke", `url(#${gid})`)
    .attr("stroke-width", 6).attr("stroke-linecap","round").attr("opacity", 0.85);
  vals.forEach((v,i) => gD.append("circle").attr("cx", xD(dRank[i])).attr("cy", yS(v)).attr("r", 3.2)
    .attr("fill", cs(dRank[i])).attr("fill-opacity", 0.6));
}
curveD(dBCR, yD1, ["#d2d2d2","#d0d1d6","#b3c0e0","#7f9fe0"], "gradBCR");
curveD(dMYC, yD2, ["#d2d2d2","#d6c6c6","#d49a94","#c23a2c"], "gradMYC");
dTicks.forEach(t => {
  T(gD, 497, yD1(t) + 3, String(t), {size:8, anchor:"end", fill:"#555"});
  T(gD, 497, yD2(t) + 3, String(t), {size:8, anchor:"end", fill:"#555"});
});
T(gD, 477, 334, "log FPKM", {size:14, anchor:"middle", rot:-90});
T(gD, 477, 434, "log FPKM", {size:14, anchor:"middle", rot:-90});
T(gD, 513, 305, "BCR-ABL1", {size:16.5});
T(gD, 513, 405, "C-MYC", {size:16.5});
[[316,"#7b9be3","γH2AX-enriched gene"],[333,"#cacaca","Un-enriched gene"],[417,"#c42a2a","γH2AX-enriched gene"],[434,"#cacaca","Un-enriched gene"]]
  .forEach(([y,c,s]) => {
    gD.append("circle").attr("cx", 517).attr("cy", y).attr("r", 4).attr("fill", c).attr("stroke", "#eee").attr("stroke-width", 0.6);
    T(gD, 522.5, y + 5, s, {size:14.3});
  });
T(gD, 607, 507, "Genes (ordered by expression level)", {size:14.3, anchor:"middle"});

// ---------- Panel E ----------
const gE = svg.append("g");
const colBlue = "#9db3e2", colRed = "#bf3e2e";
const xE = d3.scalePoint().domain(expCategories).range([105.5, 183.5]);
const yE = d3.scaleLinear().domain([0,80]).range([711,579]);
R(gE, 58, 582, 172, 135, "#fff", "#aaa", 1);
eTicks.forEach(t => { L(gE, 58, yE(t), 230, yE(t), "#f0f0f0", 0.8); L(gE, 55, yE(t), 58, yE(t), "#666", 0.8); T(gE, 53, yE(t) + 3, String(t), {size:8, anchor:"end", fill:"#555"}); });
const bwE = 25.5;
expCategories.forEach((c,i) => {
  R(gE, xE(c) - bwE, yE(enrichedBCR[i]), bwE, yE(0) - yE(enrichedBCR[i]), colBlue, null);
  R(gE, xE(c), yE(enrichedMYC[i]), bwE, yE(0) - yE(enrichedMYC[i]), colRed, null);
});
const xEi = d3.scaleLinear().domain([0,6]).range([82,135]);
const yEi = d3.scaleLinear().domain([0,0.6]).range([642,603]);
R(gE, 78, 592, 74, 51, "#fff", "#888", 1);
const densPts = densX.map((x,i) => [x, densY[i]]);
const areaEi = d3.area().x(d => xEi(d[0])).y0(yEi(0)).y1(d => yEi(d[1])).curve(d3.curveMonotoneX);
gE.append("path").attr("d", areaEi(densPts.filter(d => d[0] <= densSplit))).attr("fill","#666");
gE.append("path").attr("d", areaEi(densPts.filter(d => d[0] >= densSplit))).attr("fill","#e3cc2a");
gE.append("path").attr("d", d3.line().x(d => xEi(d[0])).y(d => yEi(d[1])).curve(d3.curveMonotoneX)(densPts)).attr("fill","none").attr("stroke","#222").attr("stroke-width",0.8);
L(gE, xEi(densSplit), yEi(0), xEi(densSplit), yEi(0.11), "#fff", 0.8);
[0,0.2,0.4,0.6].forEach(t => T(gE, 77, yEi(t) + 2, t.toFixed(1), {size:5.5, anchor:"end", fill:"#444"}));
[0,2,4,6].forEach(t => T(gE, xEi(t), 650, String(t), {size:6, anchor:"middle", fill:"#444"}));
T(gE, 66, 607, "Density", {size:8.5, anchor:"middle", rot:-90, fill:"#333"});
T(gE, 103, 660, "log FPKM", {size:11, anchor:"middle", fill:"#333"});
R(gE, 62, 558, 13, 11, colBlue, "#999", 0.8); T(gE, 78, 569, "BCR-ABL1", {size:14});
R(gE, 157, 558, 13, 11, colRed, "#999", 0.8); T(gE, 173, 569, "C-MYC", {size:14});
T(gE, 39, 648, "γH2AX-enriched genes (%)", {size:16, anchor:"middle", rot:-90});
L(gE, 70, 724, 138, 724, "#999", 1); L(gE, 148, 724, 217, 724, "#999", 1);
T(gE, 107, 742, "Low", {size:16, anchor:"middle"});
T(gE, 185, 742, "High", {size:16, anchor:"middle"});
T(gE, 144, 759, "Expression Category", {size:16, weight:"bold", anchor:"middle"});

// ---------- Panel F ----------
const gF = svg.append("g");
const yF = d3.scaleLinear().domain([0,5]).range([667,612]);
const xF = d3.scalePoint().domain(expCategories).range([340.5, 424.5]);
const dodgeF = [19.8, 14.8];
R(gF, 293, 581, 170, 136, "#fff", "#aaa", 1);
fTicks.forEach(t => { L(gF, 293, yF(t), 463, yF(t), "#f0f0f0", 0.8); L(gF, 290, yF(t), 293, yF(t), "#666", 0.8); T(gF, 288, yF(t) + 3, t.toFixed(1), {size:8, anchor:"end", fill:"#555"}); });
const violins = [
  {ys:vLowBCRy, ws:vLowBCRw, cx:xF("Low") - dodgeF[0], fill:"#b9c9ec", box:"#7093d6"},
  {ys:vLowMYCy, ws:vLowMYCw, cx:xF("Low") + dodgeF[0], fill:"#d6866a", box:"#b8281e"},
  {ys:vHighBCRy, ws:vHighBCRw, cx:xF("High") - dodgeF[1], fill:"#b9c9ec", box:"#7093d6"},
  {ys:vHighMYCy, ws:vHighMYCw, cx:xF("High") + dodgeF[1], fill:"#d6866a", box:"#b8281e"}];
violins.forEach((v, i) => {
  const pts = v.ys.map((y,j) => [y, v.ws[j]]);
  const ar = d3.area().y(d => yF(d[0])).x0(d => v.cx - d[1] * 20).x1(d => v.cx + d[1] * 20).curve(d3.curveMonotoneY);
  gF.append("path").attr("d", ar(pts)).attr("fill", v.fill).attr("stroke", "#555").attr("stroke-width", 0.6);
  L(gF, v.cx, yF(whiskLo[i]), v.cx, yF(whiskHi[i]), "#222", i >= 2 ? 1.4 : 0.6);
  R(gF, v.cx - 3.5, yF(boxQ3[i]), 7, yF(boxQ1[i]) - yF(boxQ3[i]), v.box, "#333", 0.7);
  L(gF, v.cx - 3.5, yF(boxMed[i]), v.cx + 3.5, yF(boxMed[i]), "#222", 1.1);
});
L(gF, 320.7, 594, 409.7, 594, "#5f8fb8", 1); T(gF, 365, 598, "***", {size:10, weight:"bold", anchor:"middle", fill:"#5f8fb8"});
L(gF, 360.3, 587, 439.3, 587, "#c0302a", 1); T(gF, 399, 591, "***", {size:10, weight:"bold", anchor:"middle", fill:"#c0302a"});
R(gF, 298, 558, 12, 10.5, colBlue, "#999", 0.8); T(gF, 313, 569, "BCR-ABL1", {size:14});
R(gF, 395, 558, 12, 10.5, colRed, "#999", 0.8); T(gF, 410, 569, "C-MYC", {size:14});
T(gF, 267, 650, "γH2AX (log nRPM)", {size:16, anchor:"middle", rot:-90});
L(gF, 307, 722, 374, 722, "#999", 1); L(gF, 392, 722, 458, 722, "#999", 1);
T(gF, 343, 742, "Low", {size:16, anchor:"middle"});
T(gF, 429, 742, "High", {size:16, anchor:"middle"});
T(gF, 382, 759, "Expression Category", {size:16, weight:"bold", anchor:"middle"});

// ---------- Panel G ----------
const gGp = svg.append("g");
const xGs = d3.scaleLinear().domain([-5,5]).range([560.5,688]);
const yGs = d3.scaleLinear().domain([-5,5]).range([707,579]);
R(gGp, 558, 556, 154, 153, "#fff", "#ccc", 1);
gTicks.forEach(t => {
  L(gGp, xGs(t), 556, xGs(t), 709, "#f0f0f0", 0.8); L(gGp, 558, yGs(t), 712, yGs(t), "#f0f0f0", 0.8);
  L(gGp, xGs(t), 709, xGs(t), 712, "#666", 0.8); L(gGp, 555, yGs(t), 558, yGs(t), "#666", 0.8);
  T(gGp, xGs(t), 722, t.toFixed(1), {size:8, anchor:"middle", fill:"#555"});
  T(gGp, 553, yGs(t) + 3, t.toFixed(1), {size:8, anchor:"end", fill:"#555"});
});
const gdot = (x, y, c, r, o) => gGp.append("circle").attr("cx", xGs(x)).attr("cy", yGs(y)).attr("r", r).attr("fill", c).attr("fill-opacity", o);
gGray.forEach(p => gdot(p[0], p[1], "#bdbdbd", 2.4, 0.3));
gLeftGrayY.forEach(y => gdot(-4.8, y, "#b8b8b8", 1.6, 0.45));
gBottomGrayX.forEach(x => gdot(x, -4.6, "#b8b8b8", 1.6, 0.45));
gBlue.forEach(p => gdot(p[0], p[1], "#7a9be0", 1.35, 0.9));
gBlueBottomX.forEach(x => gdot(x, -4.6, "#7a9be0", 1.3, 0.8));
gRed.forEach(p => gdot(p[0], p[1], "#c0281d", 1.35, 0.9));
gRedLeftY.forEach(y => gdot(-4.8, y, "#c0281d", 1.3, 0.85));
gRedBottomX.forEach(x => gdot(x, -4.6, "#c0281d", 1.3, 0.85));
L(gGp, xGs(regG[0][0]), yGs(regG[0][1]), xGs(regG[1][0]), yGs(regG[1][1]), "#d98080", 1);
T(gGp, 568, 570, "Upregulated in", {size:14, fill:"#111"});
T(gGp, 568, 587, "C-MYC", {size:14, fill:"#b5231c"});
T(gGp, 568, 604, "BCR-ABL1", {size:14, fill:"#6a8fd8"});
const rG = T(gGp, 708, 693, null, {size:13, anchor:"end"});
rG.append("tspan").attr("font-style","italic").text("r");
rG.append("tspan").text(" = 0.88");
T(gGp, 513, 647, "γH2AX (log nRPM)", {size:16, anchor:"middle", rot:-90});
T(gGp, 531, 641, "[C-MYC]", {size:16, anchor:"middle", rot:-90});
T(gGp, 633, 746, "γH2AX (log nRPM)", {size:16, anchor:"middle"});
T(gGp, 633, 764, "[BCR-ABL1]", {size:16, anchor:"middle"});
</script>
</body></html>
